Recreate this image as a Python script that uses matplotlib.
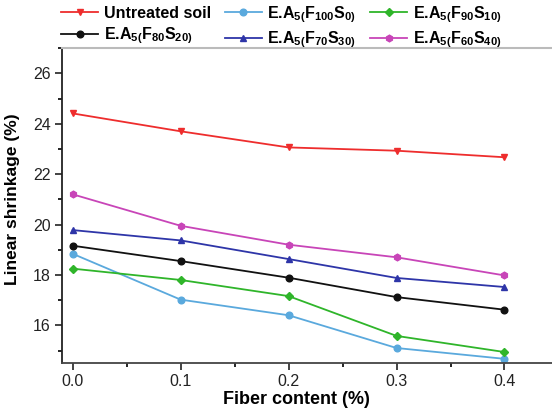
import numpy as np
import matplotlib
matplotlib.use("Agg")
import matplotlib.pyplot as plt
from matplotlib.ticker import MultipleLocator

plt.rcParams['font.family'] = ['Liberation Sans', 'DejaVu Sans']
plt.rcParams['mathtext.fontset'] = 'custom'
plt.rcParams['mathtext.rm'] = 'Liberation Sans:bold'
plt.rcParams['mathtext.default'] = 'rm'

# === Data ===
fiber = [0.0, 0.1, 0.2, 0.3, 0.4]
untreated = [24.41, 23.70, 23.06, 22.93, 22.67]
f100s0 = [18.84, 17.02, 16.40, 15.10, 14.67]
f90s10 = [18.25, 17.80, 17.16, 15.58, 14.94]
f80s20 = [19.16, 18.55, 17.89, 17.12, 16.62]
f70s30 = [19.78, 19.37, 18.63, 17.88, 17.52]
f60s40 = [21.20, 19.95, 19.20, 18.70, 17.98]

series = [
    ("Untreated soil", untreated, "#ee2d2d", "v"),
    (r"E.A$_{5(}$F$_{100}$S$_{0)}$", f100s0, "#5aa9dd", "o"),
    (r"E.A$_{5(}$F$_{90}$S$_{10)}$", f90s10, "#2fb52a", "D"),
    (r"E.A$_{5(}$F$_{80}$S$_{20)}$", f80s20, "#111111", "o"),
    (r"E.A$_{5(}$F$_{70}$S$_{30)}$", f70s30, "#2e35a8", "^"),
    (r"E.A$_{5(}$F$_{60}$S$_{40)}$", f60s40, "#c845b8", "h"),
]

fig = plt.figure(figsize=(5.52, 4.08), dpi=100)
ax = fig.add_axes([0.112, 0.110, 0.888, 0.772])

handles = {}
for label, vals, color, marker in series:
    ms = 4.0 if marker == "D" else 4.8
    line, = ax.plot(fiber, vals, color=color, marker=marker, markersize=ms,
                    linewidth=1.3, label=label)
    handles[label] = line

ax.set_xlim(-0.01, 0.444)
ax.set_ylim(14.5, 27)
ax.xaxis.set_major_locator(MultipleLocator(0.1))
ax.xaxis.set_minor_locator(MultipleLocator(0.05))
ax.yaxis.set_major_locator(MultipleLocator(2))
ax.yaxis.set_minor_locator(MultipleLocator(1))
ax.set_xticks([0.0, 0.1, 0.2, 0.3, 0.4])
ax.set_xticklabels(["0.0", "0.1", "0.2", "0.3", "0.4"])
ax.tick_params(which='major', direction='out', length=5, width=1.2, labelsize=11.5,
               colors='#222222', pad=3)
ax.tick_params(which='minor', direction='out', length=3, width=1.2)

ax.spines['right'].set_visible(False)
ax.spines['top'].set_color('#bbbbbb')
ax.spines['top'].set_linewidth(1.5)
ax.spines['left'].set_color('#222222')
ax.spines['left'].set_linewidth(1.3)
ax.spines['bottom'].set_color('#444444')
ax.spines['bottom'].set_linewidth(1.3)

ax.set_xlabel("Fiber content (%)", fontsize=13, fontweight='bold')
ax.xaxis.set_label_coords(0.478, -0.088)
ax.set_ylabel("Linear shrinkage (%)", fontsize=12.5, fontweight='bold')
ax.yaxis.set_label_coords(-0.085, 0.52)

# legend: 2 rows x 3 cols, filled column-wise
order = [0, 3, 1, 4, 2, 5]
labs = [series[i][0] for i in order]
fig.legend([handles[l] for l in labs], labs, ncol=3, frameon=False,
           loc='upper left', bbox_to_anchor=(0.085, 1.025),
           prop={'weight': 'bold', 'size': 11.5}, handlelength=2.3,
           handletextpad=0.35, columnspacing=0.9, labelspacing=0.3)

fig.savefig("out.png", dpi=100)
